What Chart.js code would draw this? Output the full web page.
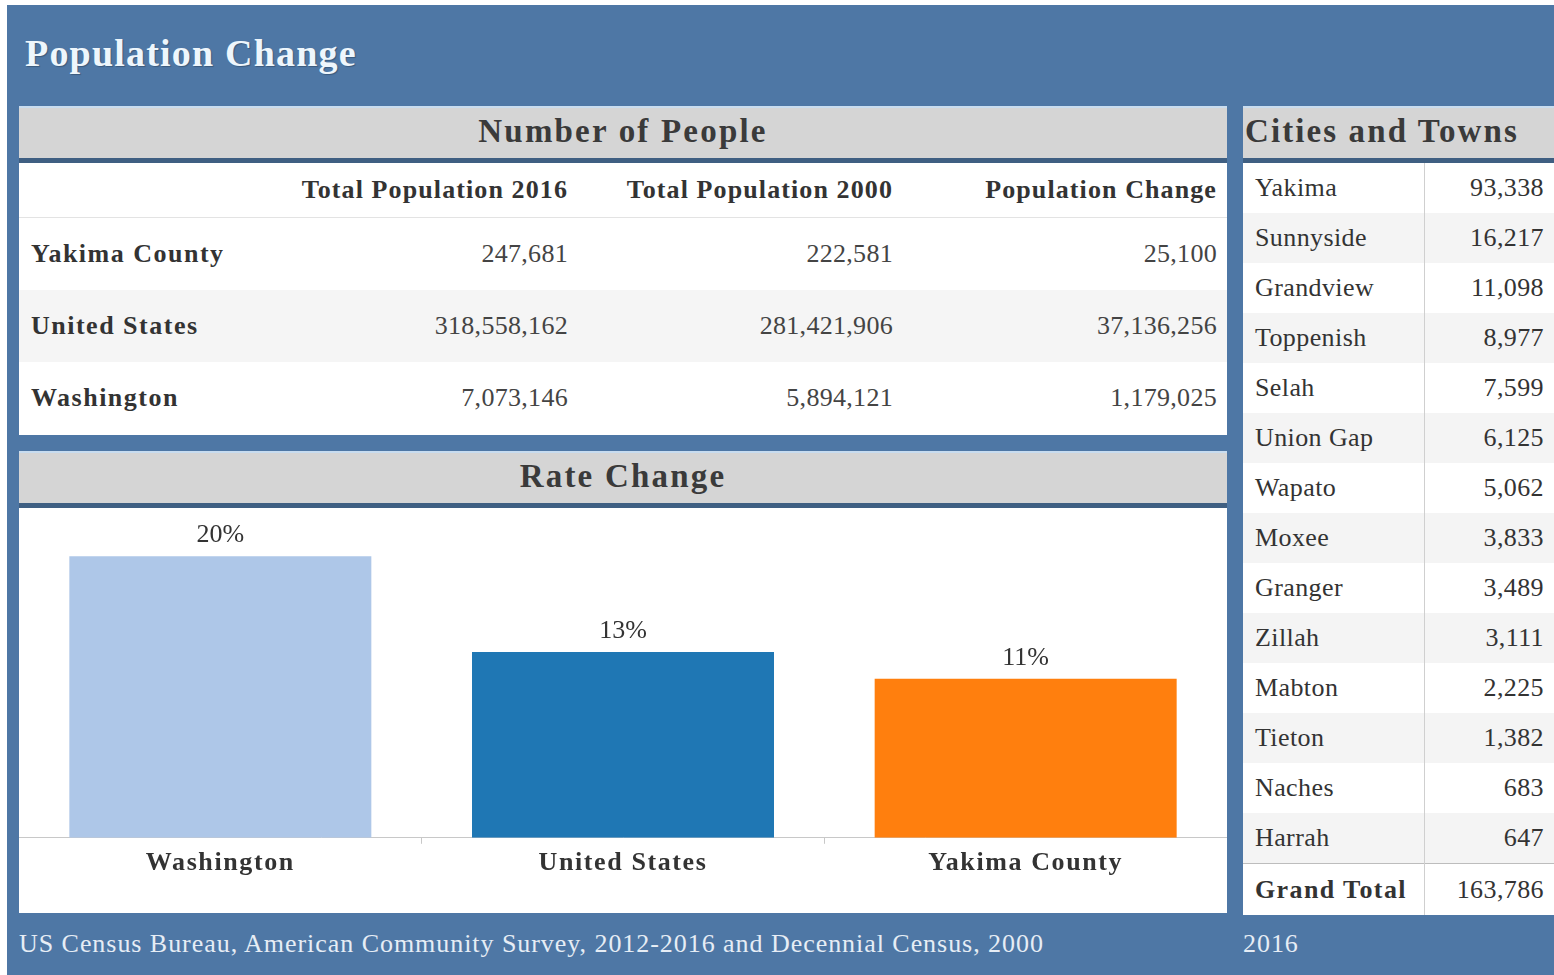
<!DOCTYPE html>
<html>
<head>
<meta charset="utf-8">
<script src="https://cdn.jsdelivr.net/npm/chart.js@4"></script>
<style>
  html, body { margin: 0; padding: 0; background: #ffffff; }
  body { width: 1554px; height: 975px; position: relative; overflow: hidden;
         font-family: "Liberation Serif", "DejaVu Serif", serif; color: #333; }
  .panel { position: absolute; left: 7px; top: 5px; width: 1547px; height: 970px; background: #4e77a5; }
  .abs { position: absolute; box-sizing: border-box; }
  .title { left: 25px; top: 31px; font-size: 38px; font-weight: bold; color: #eef6fc; letter-spacing: 1.2px;
           text-shadow: 1px 1px 1px rgba(0,0,0,0.25); }
  .hdr { background: #d5d5d5; border-top: 2px solid #c8dcef; border-bottom: 5px solid #3f5f82;
         font-size: 33px; font-weight: bold; color: #3a3a3a; line-height: 46px; letter-spacing: 2.2px; }
  .white { background: #fff; }
  table { border-collapse: collapse; width: 100%; table-layout: fixed; }
  .big td, .big th { font-size: 26px; padding: 0 10px 0 12px; }
  .big th { height: 54px; text-align: right; font-weight: bold; color: #333; border-bottom: 1px solid #e3e3e3; letter-spacing: 1.1px; }
  .big td { height: 72px; text-align: right; color: #444; letter-spacing: 0.3px; }
  .big td.lab { text-align: left; font-weight: bold; color: #333; letter-spacing: 1.5px; }
  .big tr.alt td { background: #f5f5f5; }
  .city td { font-size: 26px; height: 50px; padding: 0 10px 0 12px; color: #333; letter-spacing: 0.4px; }
  .city td.v { text-align: right; border-left: 1px solid #cfcfcf; }
  .city tr.alt td { background: #f4f4f4; }
  .city tr.tot td { border-top: 1px solid #bdbdbd; height: 51px; }
  .city tr.tot td.n { font-weight: bold; letter-spacing: 1.4px; }
  .foot { font-size: 26px; color: #e6edf5; letter-spacing: 0.95px; }
</style>
</head>
<body>
<div class="panel"></div>
<div class="abs title">Population Change</div>

<div class="abs hdr" style="left:19px; top:106px; width:1208px; height:57px; text-align:center;">Number of People</div>
<div class="abs white" style="left:19px; top:163px; width:1208px; height:272px;">
  <table class="big" id="peopleTable">
    <colgroup><col style="width:250px"><col style="width:309px"><col style="width:325px"><col style="width:324px"></colgroup>
  </table>
</div>

<div class="abs hdr" style="left:19px; top:451px; width:1208px; height:57px; text-align:center;">Rate Change</div>
<div class="abs white" style="left:19px; top:508px; width:1208px; height:405px;">
  <canvas id="rateChart" width="1208" height="405"></canvas>
</div>

<div class="abs hdr" style="left:1243px; top:106px; width:311px; height:57px; padding-left:2px; letter-spacing:2.1px;">Cities and Towns</div>
<div class="abs white" style="left:1243px; top:163px; width:311px; height:752px;">
  <table class="city" id="cityTable">
    <colgroup><col style="width:181px"><col style="width:130px"></colgroup>
  </table>
</div>

<div class="abs foot" style="left:19px; top:929px;">US Census Bureau, American Community Survey, 2012-2016 and Decennial Census, 2000</div>
<div class="abs foot" style="left:1243px; top:929px;">2016</div>

<script>
// Population table
const peopleColumns = ["Total Population 2016", "Total Population 2000", "Population Change"];
const areas = ["Yakima County", "United States", "Washington"];
const pop2016 = [247681, 318558162, 7073146];
const pop2000 = [222581, 281421906, 5894121];
const popChange = [25100, 37136256, 1179025];

// Rate change chart
const rateCategories = ["Washington", "United States", "Yakima County"];
const rateValues = [20.0, 13.2, 11.3];
const rateColors = ["#aec7e8", "#1f77b4", "#ff7f0e"];

// Cities and towns (2016)
const cities = ["Yakima", "Sunnyside", "Grandview", "Toppenish", "Selah", "Union Gap", "Wapato",
                "Moxee", "Granger", "Zillah", "Mabton", "Tieton", "Naches", "Harrah"];
const cityPop = [93338, 16217, 11098, 8977, 7599, 6125, 5062, 3833, 3489, 3111, 2225, 1382, 683, 647];
const grandTotal = 163786;

const fmt = n => n.toLocaleString("en-US");

// build population table
(function () {
  const t = document.getElementById("peopleTable");
  let h = "<tr><th></th>";
  peopleColumns.forEach(c => { h += "<th>" + c + "</th>"; });
  h += "</tr>";
  areas.forEach((a, i) => {
    h += "<tr" + (i === 1 ? " class='alt'" : "") + "><td class='lab'>" + a + "</td><td>" + fmt(pop2016[i]) +
         "</td><td>" + fmt(pop2000[i]) + "</td><td>" + fmt(popChange[i]) + "</td></tr>";
  });
  t.insertAdjacentHTML("beforeend", h);
})();

// build cities table
(function () {
  const t = document.getElementById("cityTable");
  let h = "";
  cities.forEach((c, i) => {
    h += "<tr" + (i % 2 === 1 ? " class='alt'" : "") + "><td class='n'>" + c +
         "</td><td class='v'>" + fmt(cityPop[i]) + "</td></tr>";
  });
  h += "<tr class='tot'><td class='n'>Grand Total</td><td class='v'>" + fmt(grandTotal) + "</td></tr>";
  t.insertAdjacentHTML("beforeend", h);
})();

// wider letter spacing for the category labels
const spacedText = {
  id: "spacedText",
  beforeDraw(chart) { chart.ctx.letterSpacing = "1.6px"; }
};

// value labels above bars
const barLabels = {
  id: "barLabels",
  afterDatasetsDraw(chart) {
    const ctx = chart.ctx;
    const meta = chart.getDatasetMeta(0);
    ctx.save();
    ctx.letterSpacing = "0px";
    ctx.font = "26px 'Liberation Serif', serif";
    ctx.fillStyle = "#333";
    ctx.textAlign = "center";
    ctx.textBaseline = "bottom";
    meta.data.forEach((bar, i) => {
      ctx.fillText(Math.round(rateValues[i]) + "%", bar.x, bar.y - 8);
    });
    ctx.restore();
  }
};

new Chart(document.getElementById("rateChart"), {
  type: "bar",
  data: {
    labels: rateCategories,
    datasets: [{
      data: rateValues,
      backgroundColor: rateColors,
      borderWidth: 0,
      categoryPercentage: 1.0,
      barPercentage: 0.75
    }]
  },
  options: {
    responsive: false,
    animation: false,
    layout: { padding: { top: 6, bottom: 30, left: 0, right: 0 } },
    plugins: { legend: { display: false }, tooltip: { enabled: false } },
    scales: {
      x: {
        offset: true,
        grid: { display: true, drawOnChartArea: false, drawTicks: true, tickLength: 6, color: "#c8c8c8", offset: true },
        border: { display: true, color: "#c8c8c8", width: 1 },
        ticks: { padding: 4, color: "#333", font: { family: "'Liberation Serif', serif", size: 26, weight: "bold" } }
      },
      y: {
        display: false,
        min: 0,
        max: 23
      }
    }
  },
  plugins: [spacedText, barLabels]
});
</script>
</body>
</html>
